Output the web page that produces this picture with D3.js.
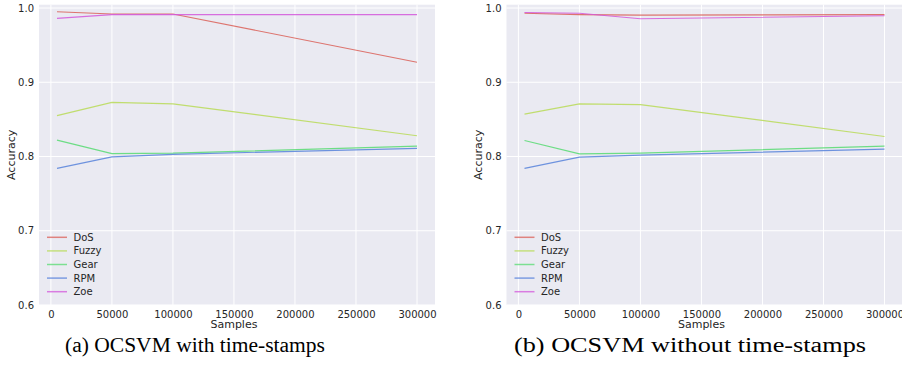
<!DOCTYPE html>
<meta charset="utf-8">
<style>
body { margin: 0; background: #fff; }
svg { display: block; }
.tick text { font-family: 'DejaVu Sans', sans-serif; font-size: 10px; fill: #262626; }
.lbl { font-family: 'DejaVu Sans', sans-serif; font-size: 11px; fill: #262626; }
.leg { font-family: 'DejaVu Sans', sans-serif; font-size: 10px; fill: #262626; }
.cap { font-family: 'Liberation Serif', 'DejaVu Serif', serif; font-size: 20.5px; fill: #000; }
</style>
<body>
<div id="chart"></div>
<script src="https://cdn.jsdelivr.net/npm/d3@7"></script>
<script>
// data
const samples = [5000, 50000, 100000, 300000];
const seriesNames = ["DoS", "Fuzzy", "Gear", "RPM", "Zoe"];
const colors = ["#db5f57", "#b8db57", "#57db72", "#5782db", "#d357db"];

// (a) with time-stamps
const withDoS   = [0.995, 0.992, 0.992, 0.927];
const withFuzzy = [0.855, 0.873, 0.871, 0.828];
const withGear  = [0.822, 0.804, 0.8045, 0.814];
const withRPM   = [0.784, 0.7996, 0.803, 0.811];
const withZoe   = [0.986, 0.991, 0.991, 0.991];

// (b) without time-stamps
const woDoS   = [0.993, 0.991, 0.9905, 0.991];
const woFuzzy = [0.857, 0.871, 0.870, 0.827];
const woGear  = [0.8216, 0.8036, 0.8046, 0.814];
const woRPM   = [0.784, 0.7992, 0.802, 0.810];
const woZoe   = [0.994, 0.993, 0.9856, 0.9896];

const xTicks = [0, 50000, 100000, 150000, 200000, 250000, 300000];
const yTicks = [0.6, 0.7, 0.8, 0.9, 1.0];

const captions = ["(a) OCSVM with time-stamps", "(b) OCSVM without time-stamps"];

const W = 902, H = 372;
const svg = d3.select("#chart").append("svg")
  .attr("width", W).attr("height", H);

const panels = [
  {left: 39, width: 396, series: [withDoS, withFuzzy, withGear, withRPM, withZoe], cap: captions[0], capX: 65, capW: 260},
  {left: 506.5, width: 396, series: [woDoS, woFuzzy, woGear, woRPM, woZoe], cap: captions[1], capX: 514, capW: 352}
];

const plotTop = 4.7, plotBottom = 305;
const ph = plotBottom - plotTop;

panels.forEach(p => {
  const x = d3.scaleLinear().domain([-9750, 314750]).range([0, p.width]);
  const y = d3.scaleLinear().domain([0.6, 1.0045]).range([ph, 0]);
  const g = svg.append("g").attr("transform", `translate(${p.left},${plotTop})`);

  g.append("rect").attr("width", p.width).attr("height", ph).attr("fill", "#eaeaf2");

  // grid
  g.selectAll(".gx").data(xTicks).enter().append("line")
    .attr("x1", d => x(d)).attr("x2", d => x(d))
    .attr("y1", 0).attr("y2", ph)
    .attr("stroke", "#fff").attr("stroke-width", 1);
  g.selectAll(".gy").data(yTicks).enter().append("line")
    .attr("y1", d => y(d)).attr("y2", d => y(d))
    .attr("x1", 0).attr("x2", p.width)
    .attr("stroke", "#fff").attr("stroke-width", 1);

  const ax = g.append("g").attr("transform", `translate(0,${ph})`)
    .call(d3.axisBottom(x).tickValues(xTicks).tickFormat(d3.format("d")).tickSize(0).tickPadding(6));
  ax.select(".domain").remove();
  const ay = g.append("g")
    .call(d3.axisLeft(y).tickValues(yTicks).tickFormat(d3.format(".1f")).tickSize(0).tickPadding(5));
  ay.select(".domain").remove();

  const line = d3.line().x((d, i) => x(samples[i])).y(d => y(d));
  p.series.forEach((s, k) => {
    g.append("path").datum(s)
      .attr("d", line)
      .attr("fill", "none")
      .attr("stroke", colors[k])
      .attr("stroke-opacity", 0.85)
      .attr("stroke-width", 1.2);
  });

  // legend
  const leg = g.append("g").attr("transform", `translate(8,${237.3 - plotTop})`);
  seriesNames.forEach((n, k) => {
    leg.append("line").attr("x1", 0).attr("x2", 20)
      .attr("y1", k * 13.6).attr("y2", k * 13.6)
      .attr("stroke", colors[k]).attr("stroke-opacity", 0.75).attr("stroke-width", 1.5);
    leg.append("text").attr("class", "leg").attr("x", 26.5).attr("y", k * 13.6 + 3.5).text(n);
  });

  g.append("text").attr("class", "lbl")
    .attr("x", x(150000)).attr("y", ph + 23.5)
    .attr("text-anchor", "middle").text("Samples");
  g.append("text").attr("class", "lbl")
    .attr("transform", `translate(-24.5,${ph / 2}) rotate(-90)`)
    .attr("text-anchor", "middle").text("Accuracy");

  svg.append("text").attr("class", "cap")
    .attr("x", p.capX).attr("y", 352)
    .attr("textLength", p.capW).attr("lengthAdjust", "spacingAndGlyphs")
    .text(p.cap);
});
</script>
</body>
